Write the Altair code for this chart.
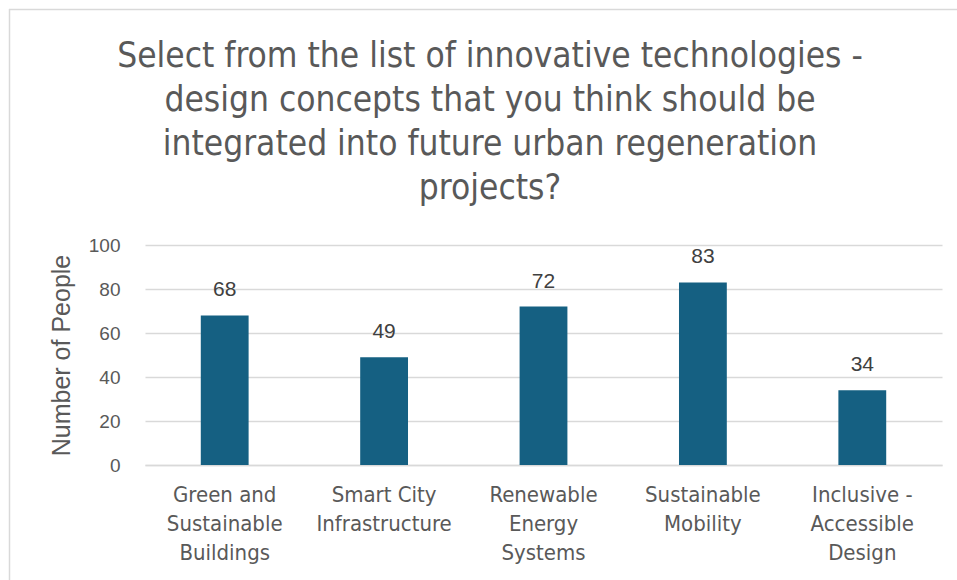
import altair as alt
import pandas as pd

categories = [
    "Green and|Sustainable|Buildings",
    "Smart City|Infrastructure",
    "Renewable|Energy|Systems",
    "Sustainable|Mobility",
    "Inclusive -|Accessible|Design",
]
values = [68, 49, 72, 83, 34]

title_lines = [
    "Select from the list of innovative technologies -",
    "design concepts that you think should be",
    "integrated into future urban regeneration",
    "projects?",
]

df = pd.DataFrame({"category": categories, "value": values})

NARROW = "Liberation Sans Narrow, DejaVu Sans Condensed, sans-serif"
REG = "Liberation Sans, Arial, sans-serif"

x = alt.X(
    "category:N",
    sort=categories,
    scale=alt.Scale(paddingInner=0.7, paddingOuter=0.35),
    axis=alt.Axis(
        title=None,
        labelAngle=0,
        labelExpr="split(datum.label, '|')",
        labelFont=NARROW,
        labelFontSize=22,
        labelColor="#595959",
        labelLineHeight=29,
        labelPadding=19,
        labelBaseline="top",
        domainColor="#d9d9d9",
        domainWidth=1.5,
        ticks=False,
    ),
)

y = alt.Y(
    "value:Q",
    scale=alt.Scale(domain=[0, 100]),
    axis=alt.Axis(
        title="Number of People",
        titleFont=REG,
        titleFontSize=25,
        titleFontWeight="normal",
        titleColor="#595959",
        titlePadding=14,
        values=[0, 20, 40, 60, 80, 100],
        labelFont=REG,
        labelFontSize=19,
        labelColor="#595959",
        labelPadding=25,
        domain=False,
        ticks=False,
        gridColor="#d9d9d9",
        gridWidth=1.5,
    ),
)

bars = alt.Chart(df).mark_bar(color="#156082").encode(x=x, y=y)
labels = alt.Chart(df).mark_text(
    baseline="bottom", dy=-15, font=REG, fontSize=21, color="#404040"
).encode(x=alt.X("category:N", sort=categories), y="value:Q", text="value:Q")

frame_df = pd.DataFrame({"a": [0]})
frame_top = alt.Chart(frame_df).mark_rule(color="#d9d9d9", strokeWidth=1.5).encode(
    x=alt.value(-136), x2=alt.value(812), y=alt.value(-235.5)
)
frame_left = alt.Chart(frame_df).mark_rule(color="#d9d9d9", strokeWidth=1.5).encode(
    x=alt.value(-135.5), y=alt.value(-236), y2=alt.value(340)
)

chart = (
    (frame_top + frame_left + bars + labels)
    .properties(
        width=797,
        height=220,
        autosize=alt.AutoSizeParams(type="none"),
        padding={"left": 145, "top": 245, "right": 15, "bottom": 115},
        title=alt.TitleParams(
            text=title_lines,
            font=NARROW,
            fontSize=35,
            fontWeight="normal",
            color="#595959",
            lineHeight=44,
            anchor="middle",
            frame="bounds",
            offset=30,
            dy=228,
            dx=7,
        ),
        background="white",
    )
    .configure_view(stroke=None)
)

chart.save("out.html", embed_options={"renderer": "svg", "actions": False})
